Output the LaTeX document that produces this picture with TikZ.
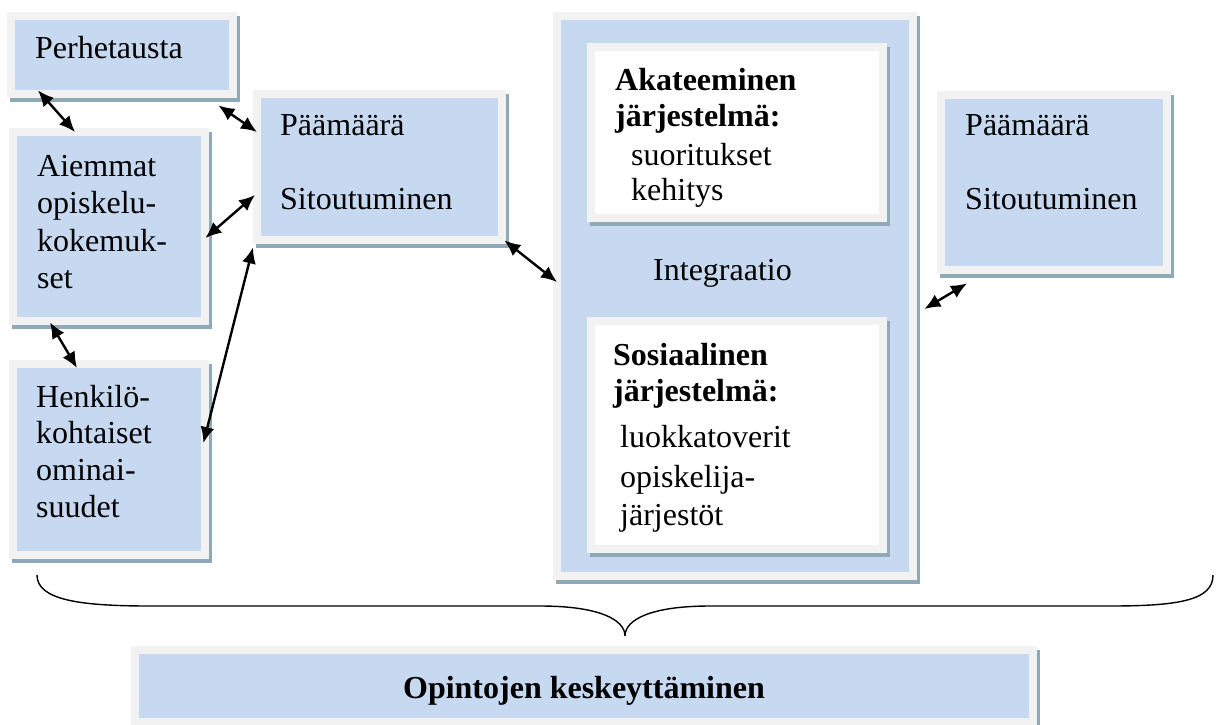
\documentclass[tikz,border=0pt]{standalone}
\usepackage{fontspec}
\setmainfont{Liberation Serif}
\usetikzlibrary{arrows.meta,calc,shadows}

\definecolor{framegray}{HTML}{F2F2F2}
\definecolor{boxblue}{HTML}{C6D9F0}
\definecolor{edgeblue}{HTML}{8FAAB6}

\tikzset{
  % framed panel: light grey frame, coloured inner field, offset shadow
  panel/.style={fill=framegray, draw=none, inner sep=0pt, anchor=north west,
    general shadow={fill=edgeblue, shadow xshift=3pt, shadow yshift=-4pt},
    path picture={\fill[#1]
      ([shift={(8pt,8pt)}]path picture bounding box.south west) rectangle
      ([shift={(-8pt,-8pt)}]path picture bounding box.north east);}},
  panel/.default=boxblue,
  txt/.style={font=\fontsize{32}{37}\selectfont, inner sep=0pt, anchor=base west},
  btxt/.style={txt, font=\fontsize{32}{37}\selectfont\bfseries},
  link/.style={line width=2.4pt, {Latex[length=16pt,width=14pt]}-{Latex[length=16pt,width=14pt]}},
}

\begin{document}
\begin{tikzpicture}[x=1pt,y=-1pt]
\useasboundingbox (0,0) rectangle (1224,724);

% left column
\node[panel, minimum width=230, minimum height=86] (perhe) at (7,12) {};
\node[panel, minimum width=200, minimum height=197] (aiem) at (9,128) {};
\node[panel, minimum width=200, minimum height=199] (henk) at (9,360) {};
% goal / commitment, before
\node[panel, minimum width=253, minimum height=154] (paam) at (253,90) {};
% integration
\node[panel, minimum width=364, minimum height=568] (integ) at (553,12) {};
\node[panel=white, minimum width=300, minimum height=179] (akat) at (587,43) {};
\node[panel=white, minimum width=300, minimum height=236] (sos) at (587,317) {};
% goal / commitment, after
\node[panel, minimum width=234, minimum height=183] (paam2) at (937,91) {};
% outcome
\node[panel, minimum width=906, minimum height=80] (keskeytys) at (131,646) {};

% texts
\node[txt] (t-perhe) at (35,58) {Perhetausta};
\node[txt] (t-aiem1) at (37,176) {Aiemmat};
\node[txt] (t-aiem2) at (37,213.5) {opiskelu-};
\node[txt] (t-aiem3) at (37,251) {kokemuk-};
\node[txt] (t-aiem4) at (37,288.5) {set};
\node[txt] (t-henk1) at (36,407) {Henkilö-};
\node[txt] (t-henk2) at (36,443) {kohtaiset};
\node[txt] (t-henk3) at (36,480) {ominai-};
\node[txt] (t-henk4) at (36,517) {suudet};
\node[txt] (t-paam1) at (280,135) {Päämäärä};
\node[txt] (t-paam2) at (280,209) {Sitoutuminen};
\node[btxt] (t-akat1) at (615,90) {Akateeminen};
\node[btxt] (t-akat2) at (615,126) {järjestelmä:};
\node[txt] (t-akat3) at (631,165) {suoritukset};
\node[txt] (t-akat4) at (631,200) {kehitys};
\node[txt] (t-integ) at (653,280) {Integraatio};
\node[btxt] (t-sos1) at (613,365) {Sosiaalinen};
\node[btxt] (t-sos2) at (613,401) {järjestelmä:};
\node[txt] (t-sos3) at (620,447) {luokkatoverit};
\node[txt] (t-sos4) at (620,487) {opiskelija-};
\node[txt] (t-sos5) at (620,525) {järjestöt};
\node[txt] (t-paam3) at (965,135) {Päämäärä};
\node[txt] (t-paam4) at (965,209) {Sitoutuminen};
\node[btxt, anchor=base] (t-kesk) at (584,698) {Opintojen keskeyttäminen};

% two-way links
\draw[link] ($(perhe.south west)+(31,-8)$) -- ($(aiem.north west)+(66,4)$);
\draw[link] ($(perhe.south east)+(-19,7)$) -- ($(paam.north west)+(4,42)$);
\draw[link] ($(aiem.north east)+(-4,110)$) -- ($(paam.north west)+(2,105)$);
\draw[link] ($(paam.south west)+(0,3)$) -- ($(henk.north east)+(-6,83)$);
\draw[link] ($(aiem.south west)+(41,-3)$) -- ($(henk.north west)+(68,8)$);
\draw[link] ($(paam.south east)+(-2,-4)$) -- ($(integ.north west)+(4,270)$);
\draw[link] ($(integ.north east)+(7,297)$) -- ($(paam2.south west)+(30,9)$);

% brace gathering everything above
\draw[line width=1.4pt]
  (37,575) .. controls (37,600) and (80,606) .. (150,606) -- (540,606)
  .. controls (600,606) and (625,620) .. (625,636)
  .. controls (625,620) and (650,606) .. (710,606) -- (1110,606)
  .. controls (1180,606) and (1213,600) .. (1213,575);
\end{tikzpicture}
\end{document}
